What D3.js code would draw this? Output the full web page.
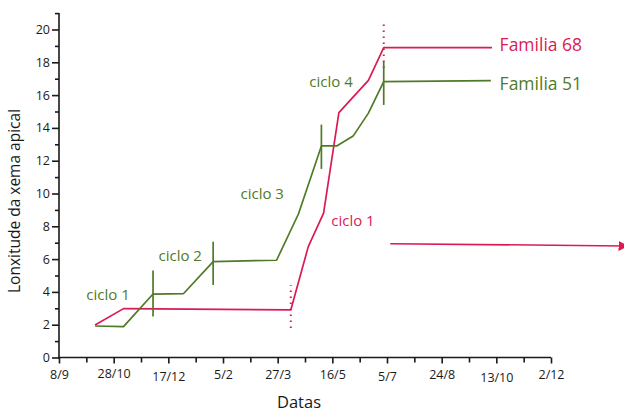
<!DOCTYPE html>
<html><head><meta charset="utf-8">
<script src="https://cdn.jsdelivr.net/npm/d3@7"></script>
<style>
body{margin:0;background:#fff}
svg{display:block}
text{font-family:"Open Sans",sans-serif}
</style>
</head><body>
<svg id="chart" width="624" height="413"></svg>
<script>
// ---------- data ----------
const xTickDates  = ["2000-09-08","2000-10-28","2000-12-17","2001-02-05","2001-03-27","2001-05-16","2001-07-05","2001-08-24","2001-10-13","2001-12-02"];
const xTickLabels = ["8/9","28/10","17/12","5/2","27/3","16/5","5/7","24/8","13/10","2/12"];
const yTickValues = [0,2,4,6,8,10,12,14,16,18,20];
const yMinorValues = [1,3,5,7,9,11,13,15,17,19,21];

const fam51Dates  = ["2000-10-11","2000-11-06","2000-12-03","2000-12-31","2001-01-27","2001-03-26","2001-04-15","2001-05-06","2001-05-20","2001-06-04","2001-06-18","2001-07-02","2001-10-08"];
const fam51Values = [1.92,1.88,3.87,3.9,5.85,5.93,8.75,12.9,12.9,13.5,14.9,16.82,16.88];

const fam68Dates  = ["2000-10-11","2000-11-06","2001-04-08","2001-04-24","2001-05-08","2001-05-22","2001-06-18","2001-07-02","2001-10-09"];
const fam68Values = [1.98,2.98,2.9,6.76,8.8,14.93,16.9,18.9,18.9];

// green cycle markers (vertical bars)
const cycleDates = ["2000-12-03","2001-01-27","2001-05-06","2001-07-02"];
const cycleLow   = [2.5,4.42,11.5,15.4];
const cycleHigh  = [5.3,7.06,14.2,18.04];

// red dotted markers
const dotDates = ["2001-04-08","2001-07-02"];
const dotLow   = [1.8,17.65];
const dotHigh  = [4.4,20.3];

// red arrow
const arrowDates  = ["2001-07-08","2002-02-10"];
const arrowValues = [6.94,6.8];

// annotations
const annText   = ["ciclo 1","ciclo 2","ciclo 3","ciclo 4","Familia 68","Familia 51","ciclo 1"];
const annDates  = ["2000-10-03","2000-12-08","2001-02-21","2001-04-25","2001-10-16","2001-10-16","2001-05-15"];
const annValues = [3.5,5.88,9.66,16.5,18.7,16.3,8.0];
const annSeries = ["g","g","g","g","r","g","r"];

// ---------- drawing ----------
const RED = "#dc1a52", GREEN = "#4f7a26", INK = "#1a1a1a";
const parse = d3.timeParse("%Y-%m-%d");
const svg = d3.select("#chart");

const x = d3.scaleTime().domain([parse(xTickDates[0]), parse(xTickDates[xTickDates.length-1])]).range([59, 551]);
const y = d3.scaleLinear().domain([0, 20]).range([357.5, 29.5]);

// y axis
const yAxisG = svg.append("g").attr("transform","translate(59,0)");
yAxisG.append("g").call(d3.axisLeft(y).tickValues(yMinorValues).tickSize(4).tickFormat("").tickSizeOuter(0))
  .call(g=>g.select(".domain").remove());
yAxisG.append("g").call(d3.axisLeft(y).tickValues(yTickValues).tickSize(7).tickPadding(2).tickSizeOuter(0))
  .call(g=>g.select(".domain").remove());
yAxisG.append("line").attr("x1",0).attr("x2",0).attr("y1",y(0)+1).attr("y2",y(21));
yAxisG.selectAll("line").attr("stroke",INK).attr("stroke-width",1.6);
yAxisG.selectAll("text").attr("font-size",12.5).attr("fill",INK).attr("font-family","Open Sans");

// x axis
const minorDates = xTickDates.slice(0,-1).map(d => d3.timeDay.offset(parse(d), 25));
const xAxisG = svg.append("g").attr("transform",`translate(0,${y(0)})`);
xAxisG.append("g").call(d3.axisBottom(x).tickValues(minorDates).tickSize(5).tickFormat("").tickSizeOuter(0))
  .call(g=>g.select(".domain").remove());
const xMajor = xAxisG.append("g").call(d3.axisBottom(x).tickValues(xTickDates.map(parse)).tickSize(6).tickSizeOuter(0)
  .tickFormat((d,i)=>xTickLabels[i]));
xMajor.select(".domain").remove();
const labelShift = [0,-1,1.5,0,-0.5,-0.5,2,0,3,0];
xMajor.selectAll(".tick text").attr("y",(d,i)=>13+labelShift[i]).attr("dy","0.71em")
  .attr("font-size",12.5).attr("fill",INK).attr("font-family","Open Sans");
xAxisG.append("line").attr("x1",x.range()[0]-1).attr("x2",x.range()[1]).attr("y1",0).attr("y2",0);
xAxisG.selectAll("line").attr("stroke",INK).attr("stroke-width",1.6);

// axis titles
svg.append("text").attr("x",299).attr("y",408).attr("text-anchor","middle")
  .attr("font-size",16.5).attr("fill",INK).text("Datas");
svg.append("text").attr("transform","translate(20,201) rotate(-90)").attr("text-anchor","middle")
  .attr("font-size",15.5).attr("fill",INK).text("Lonxitude da xema apical");

// lines
const line = d3.line().x(d=>x(d[0])).y(d=>y(d[1]));
const fam68 = fam68Dates.map((d,i)=>[parse(d), fam68Values[i]]);
const fam51 = fam51Dates.map((d,i)=>[parse(d), fam51Values[i]]);

// dotted red markers
svg.selectAll(".dot").data(dotDates).join("line")
  .attr("x1",d=>x(parse(d))).attr("x2",d=>x(parse(d)))
  .attr("y1",(d,i)=>y(dotLow[i])).attr("y2",(d,i)=>y(dotHigh[i]))
  .attr("stroke",RED).attr("stroke-width",2).attr("stroke-dasharray","1.6,4.4");

svg.append("path").datum(fam68).attr("d",line).attr("fill","none").attr("stroke",RED).attr("stroke-width",1.7).attr("stroke-linejoin","round");
svg.append("path").datum(fam51).attr("d",line).attr("fill","none").attr("stroke",GREEN).attr("stroke-width",1.7).attr("stroke-linejoin","round");

// green cycle bars
svg.selectAll(".cyc").data(cycleDates).join("line")
  .attr("x1",d=>x(parse(d))).attr("x2",d=>x(parse(d)))
  .attr("y1",(d,i)=>y(cycleLow[i])).attr("y2",(d,i)=>y(cycleHigh[i]))
  .attr("stroke",GREEN).attr("stroke-width",1.7);

// arrow
svg.append("defs").append("marker").attr("id","arr").attr("viewBox","0 0 10 10")
  .attr("refX",9).attr("refY",5).attr("markerWidth",10).attr("markerHeight",10)
  .attr("markerUnits","userSpaceOnUse").attr("orient","auto")
  .append("path").attr("d","M0,0L10,5L0,10Z").attr("fill",RED);
const arrow = arrowDates.map((d,i)=>[parse(d), arrowValues[i]]);
svg.append("path").datum(arrow).attr("d",line).attr("stroke",RED).attr("stroke-width",1.6)
  .attr("fill","none").attr("marker-end","url(#arr)");

// annotations
svg.selectAll(".ann").data(annText).join("text")
  .attr("x",(d,i)=>x(parse(annDates[i]))).attr("y",(d,i)=>y(annValues[i]))
  .attr("font-size",(d,i)=> d.startsWith("Familia") ? 17.5 : 15)
  .attr("fill",(d,i)=> annSeries[i]==="r" ? RED : GREEN)
  .text(d=>d);
</script>
</body></html>
